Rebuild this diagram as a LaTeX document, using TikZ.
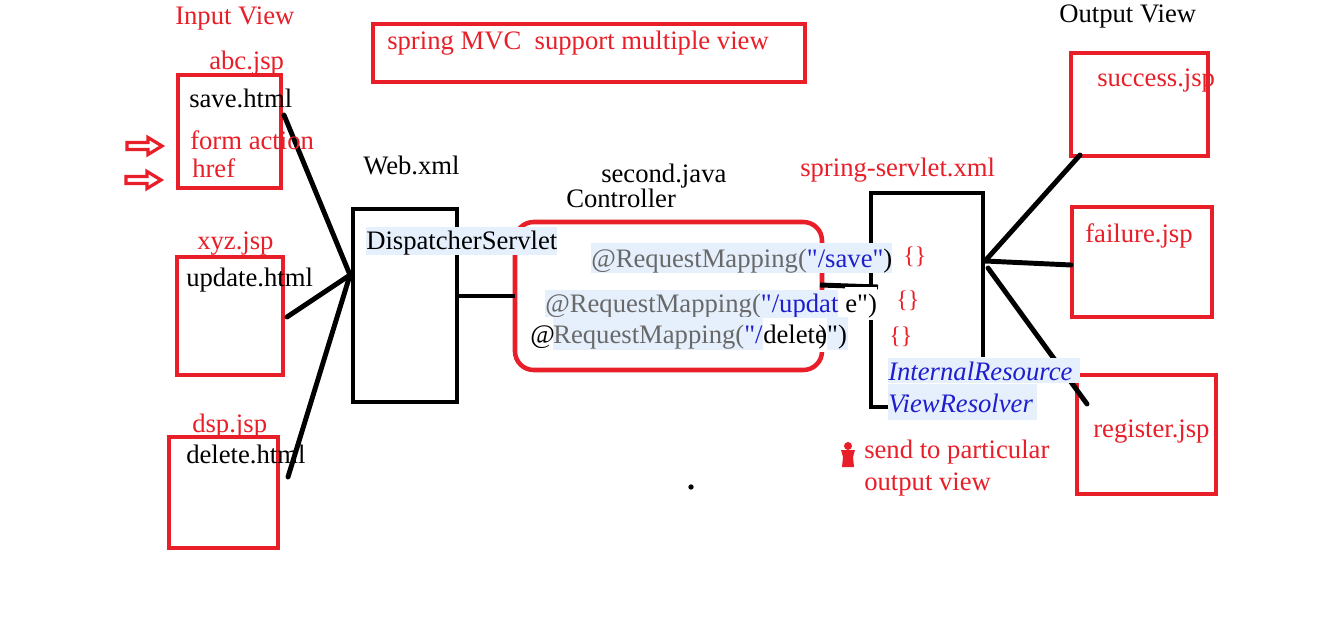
\documentclass[tikz,border=0pt]{standalone}
\usepackage{fontspec}
\setmainfont{Liberation Serif}[Ligatures=TeXOff]
\usetikzlibrary{fit}
\definecolor{myred}{RGB}{232,30,40}
\definecolor{hl}{RGB}{230,240,252}
\definecolor{gtxt}{RGB}{105,105,105}
\definecolor{btx}{RGB}{30,30,205}
\tikzset{
  lbl/.style={anchor=base west, inner sep=0pt, font=\fontsize{20}{24}\selectfont},
  rtxt/.style={lbl, text=myred},
  ktxt/.style={lbl, text=black},
  brace/.style={anchor=base west, inner sep=0pt, font=\fontsize{18}{21}\selectfont, text=myred},
  rbox/.style={draw=myred, line width=3.4pt, inner sep=0pt},
  kbox/.style={draw=black, line width=3.6pt, inner sep=0pt},
  wire/.style={draw=black, line width=3.7pt, line cap=round},
  hollowarrow/.style={draw=myred, line width=2.4pt, fill=white, line join=miter},
}
\begin{document}
\begin{tikzpicture}[x=0.75pt,y=-0.75pt]
\useasboundingbox (0,0) rectangle (1337,623);
\fill[white] (0,0) rectangle (1337,623);

% ---------- boxes ----------
\node[rbox, fit={(373,24)(805,82)}] (mvcbox) {};
\node[rbox, fit={(178,75)(281,188)}] (abcbox) {};
\node[rbox, fit={(177,257)(283,375)}] (xyzbox) {};
\node[rbox, fit={(169,437)(278,548)}] (dspbox) {};
\node[kbox, fit={(353,209)(457,402)}] (dispbox) {};
\node[rbox, rounded corners=14pt, fit={(515,222)(822,370)}] (ctrlbox) {};
\node[rbox, fit={(1071,53)(1208,156)}] (successbox) {};
\node[rbox, fit={(1072,207)(1212,317)}] (failurebox) {};
\node[rbox, fit={(1077,375)(1216,494)}] (registerbox) {};

% spring-servlet open frame
\coordinate (sv1) at (888,407);
\coordinate (sv2) at (871,407);
\coordinate (sv3) at (871,193);
\coordinate (sv4) at (983,193);
\coordinate (sv5) at (983,357);
\draw[wire, line cap=butt, line join=miter] (sv1) -- (sv2) -- (sv3) -- (sv4) -- (sv5);

% ---------- red hollow arrows ----------
\draw[hollowarrow] (127,142.5) -- (148,142.5) -- (148,137.5) -- (162,146) -- (148,154.5) -- (148,149.5) -- (127,149.5) -- cycle;
\draw[hollowarrow] (126,176.5) -- (147,176.5) -- (147,171.5) -- (161,180) -- (147,188.5) -- (147,183.5) -- (126,183.5) -- cycle;

% ---------- connectors ----------
\coordinate (hubL) at (350,275);
\coordinate (saveOut) at (284,115);
\coordinate (updOut) at (287,317);
\coordinate (delOut) at (288,477);
\draw[wire] (saveOut) -- (hubL);
\draw[wire] (updOut) -- (hubL);
\draw[wire] (delOut) -- (hubL);

\coordinate (dispOut) at (457,296);
\coordinate (ctrlIn) at (515,296);
\draw[wire, line cap=butt] (dispOut) -- (ctrlIn);

\coordinate (ctrlOut) at (820,285);
\coordinate (svIn) at (878,287);
\draw[wire, line cap=butt] (ctrlOut) -- (svIn);

\coordinate (hubR) at (985,261);
\coordinate (hubR2) at (988,268);
\coordinate (succIn) at (1080,155);
\coordinate (failIn) at (1071,265);
\coordinate (regIn) at (1087,404);
\draw[wire] (hubR) -- (succIn);
\draw[wire] (hubR) -- (failIn);
\draw[wire] (hubR2) -- (regIn);

% small dot
\fill (691,487) circle[radius=2pt];

% red figure
\fill[myred] (848,446) circle[radius=3pt];
\fill[myred] (841,450) -- (855,450) -- (853,457) -- (854,467) -- (842,467) -- (843,457) -- cycle;

% ---------- texts ----------
\node[rtxt] (inputview) at (175,25) {Input View};
\node[rtxt] (abc) at (209,70) {abc.jsp};
\node[ktxt] (savehtml) at (189,108) {save.html};
\node[rtxt] (formaction) at (190,150) {form action};
\node[rtxt] (href) at (192,178) {href};
\node[rtxt] (xyz) at (197,250) {xyz.jsp};
\node[ktxt] (updhtml) at (186,287) {update.html};
\node[rtxt] (dsp) at (192,432) {dsp.jsp};
\node[ktxt] (delhtml) at (186,463) {delete.html};

\node[rtxt] (mvc) at (387,50) {spring MVC\ \ support multiple view};
\node[ktxt] (webxml) at (363,175) {Web.xml};
\node[ktxt, fill=hl, text height=17.25pt, text depth=3.75pt] (dispservlet) at (366,250) {DispatcherServlet};

\node[ktxt] (secondjava) at (601,183) {second.java};
\node[ktxt] (controller) at (566,208) {Controller};

\node[ktxt, fill=hl, text height=18.75pt, text depth=3.75pt] (rm1) at (591,268)
  {{\color{gtxt}@RequestMapping(}{\color{btx}"/save"}{\color{black})}};
\node[ktxt, fill=hl, text height=17.25pt, text depth=3pt] (rm2) at (545,313)
  {{\color{gtxt}@RequestMapping(}{\color{btx}"/updat}};
\node[ktxt, fill=white, text height=19.5pt, text depth=5.25pt] (rm2b) at (845,313) {e")};
\node[ktxt, fill=hl, text height=19.5pt, text depth=5.25pt] (rm3) at (553,343)
  {{\color{gtxt}RequestMapping(}{\color{btx}"/}\hspace*{64pt}};
\node[ktxt] (rm3at) at (530,343) {@};
\node[ktxt, fill=white, text height=18.75pt, text depth=6.75pt] (rm3del) at (763,343) {delete};
\node[ktxt] (rm3end) at (818,343) {)")};

\node[brace] (br1) at (903,264) {\{\}};
\node[brace] (br2) at (896,308) {\{\}};
\node[brace] (br3) at (889,344) {\{\}};

\node[rtxt] (springservlet) at (800,177) {spring-servlet.xml};
\node[lbl, text=btx, fill=hl, font=\fontsize{20}{24}\selectfont\itshape, text height=16.5pt, text depth=2.5pt] (irv1) at (888,380) {InternalResource\hspace*{6pt}};
\node[lbl, text=btx, fill=hl, font=\fontsize{20}{24}\selectfont\itshape, text height=21pt, text depth=6pt] (irv2) at (888,412) {ViewResolver\hspace*{3pt}};

\node[rtxt] (send1) at (864,458) {send to particular};
\node[rtxt] (send2) at (864,490) {output view};

\node[ktxt] (outputview) at (1059,23) {Output View};
\node[rtxt] (success) at (1097,87) {success.jsp};
\node[rtxt] (failure) at (1085,243) {failure.jsp};
\node[rtxt] (register) at (1093,437) {register.jsp};
\end{tikzpicture}
\end{document}
